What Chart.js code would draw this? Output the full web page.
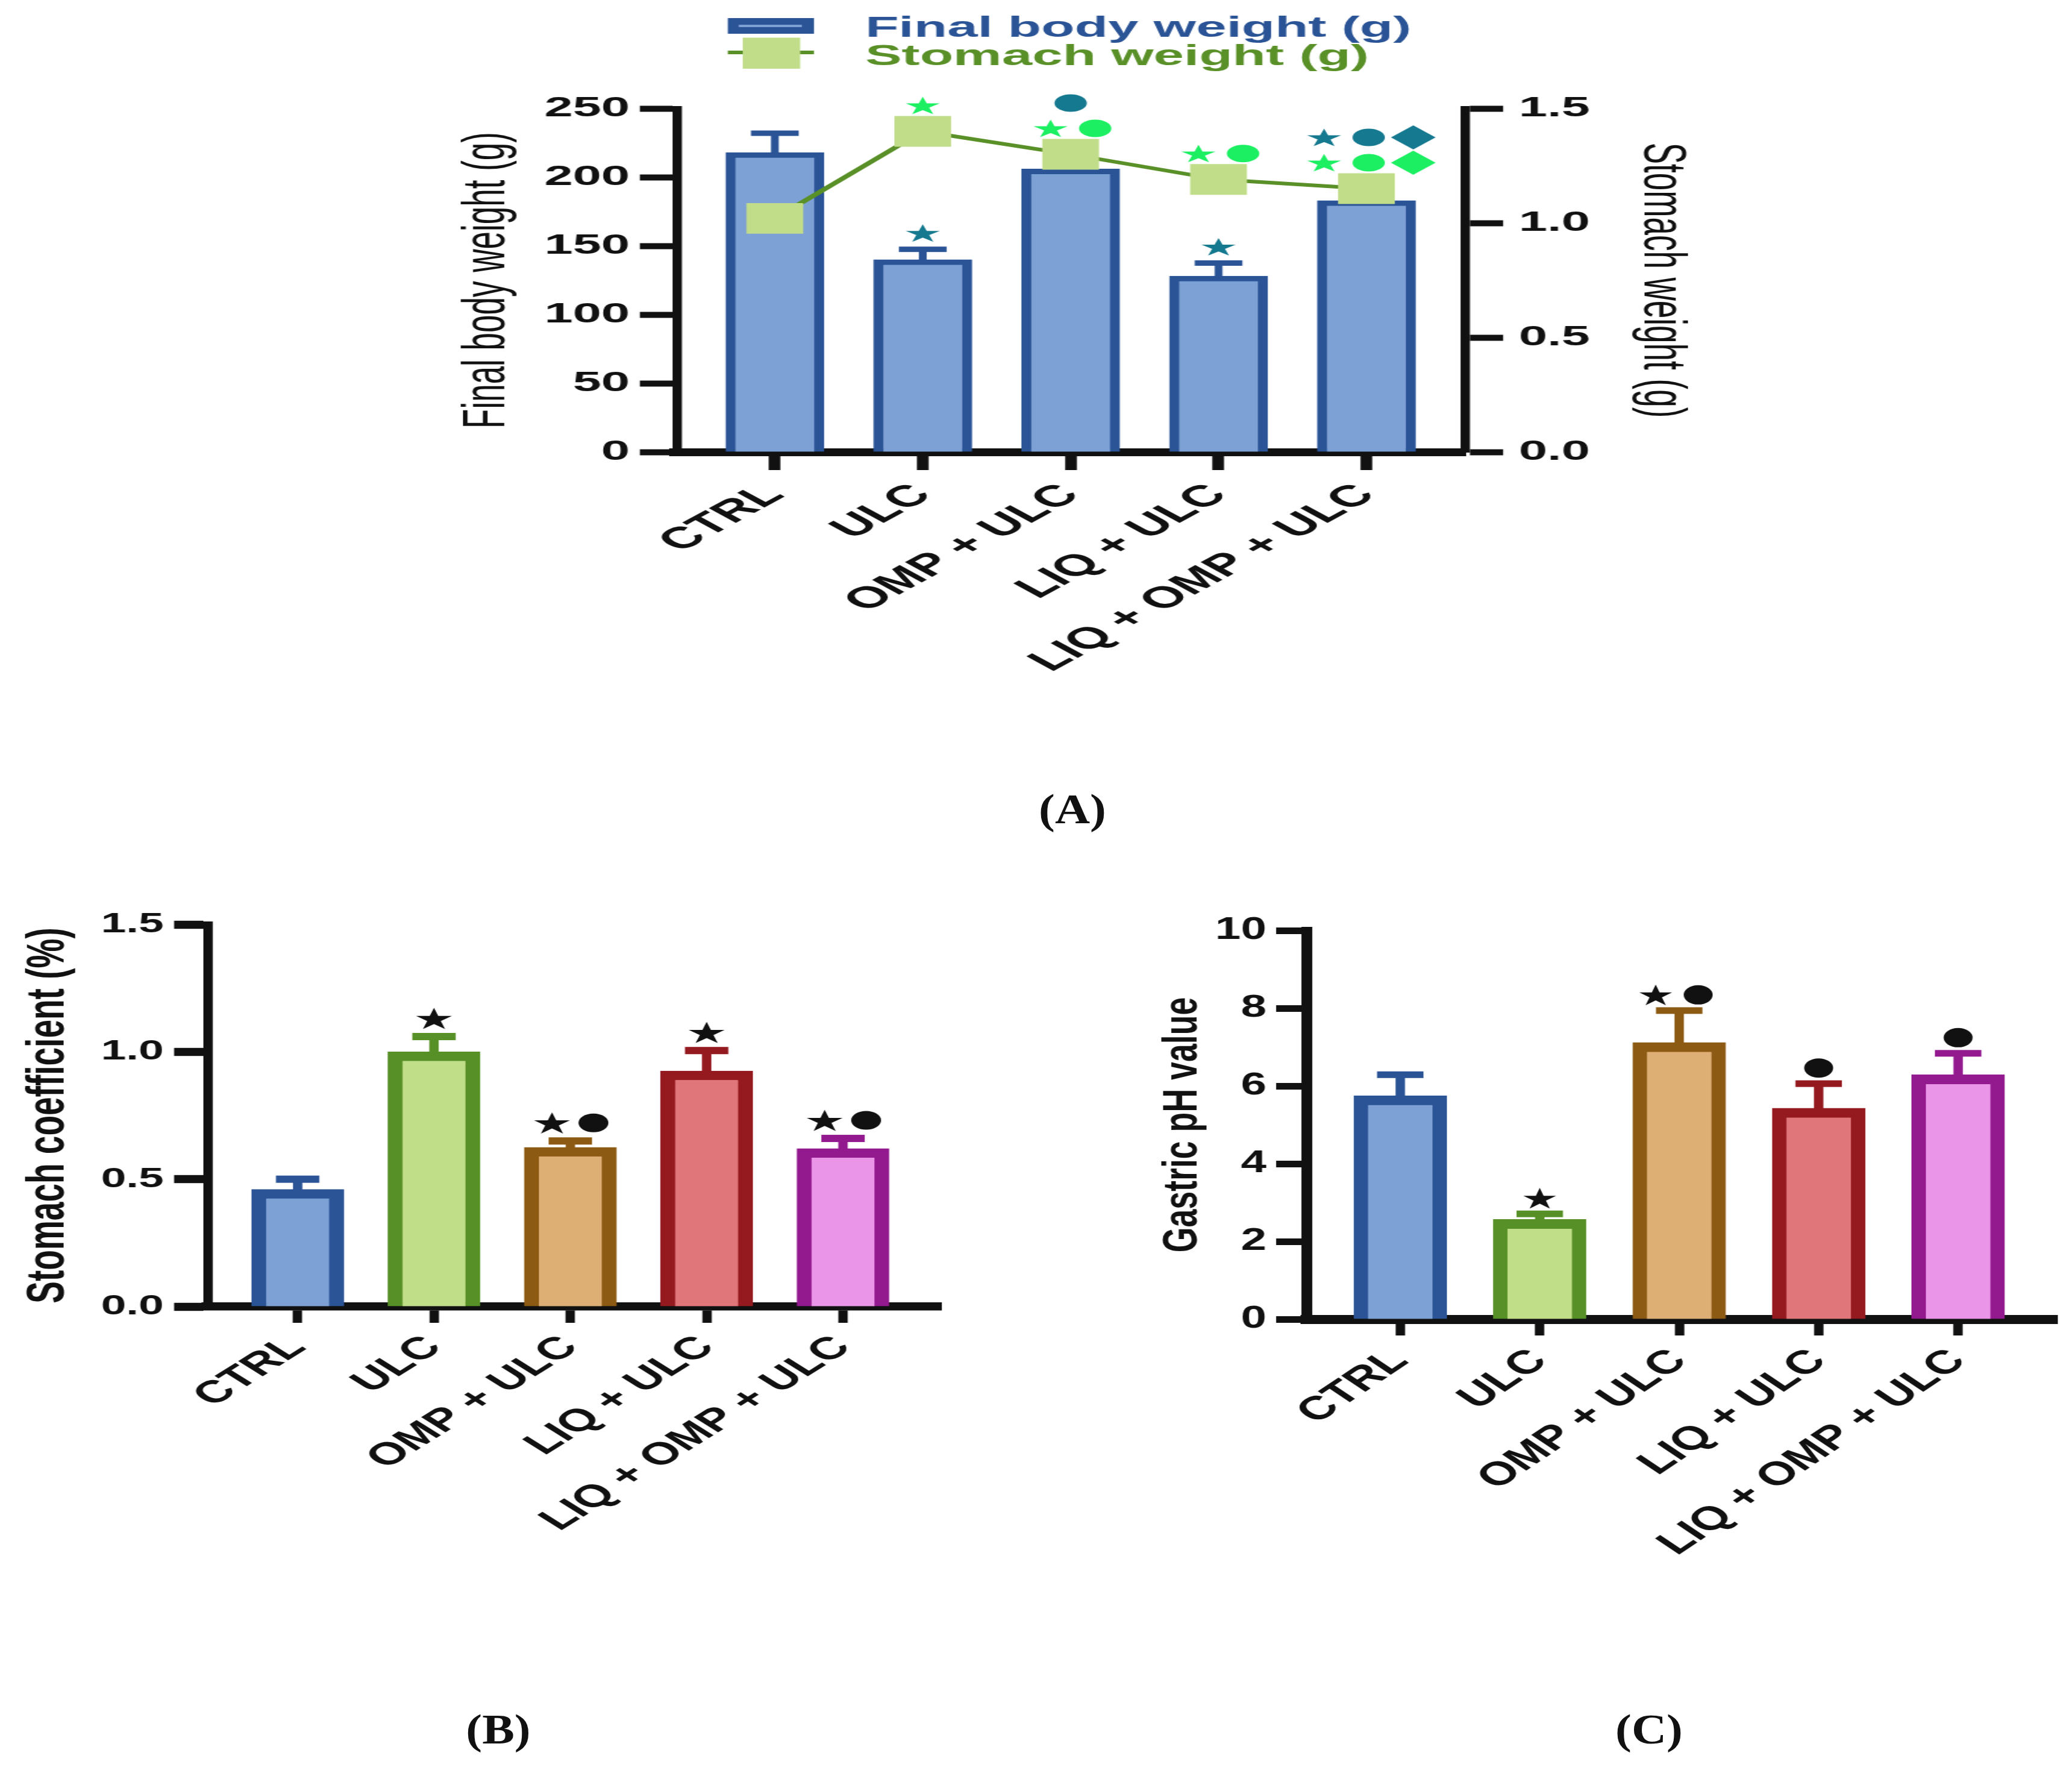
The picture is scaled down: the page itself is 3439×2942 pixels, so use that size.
<!DOCTYPE html>
<html>
<head>
<meta charset="utf-8">
<script src="https://cdn.jsdelivr.net/npm/chart.js@4.4.1/dist/chart.umd.min.js"></script>
<style>
html,body{margin:0;padding:0;background:#fff;overflow:hidden;width:3439px;height:2942px;position:relative;}
canvas{position:absolute;transform-origin:0 0;}
.plabel{position:absolute;font:bold 70px 'Liberation Serif','Times New Roman',serif;color:#111;transform:translate(-50%,-50%) scaleX(1.15);white-space:nowrap;}
</style>
</head>
<body>
<canvas id="cA" width="1189" height="1200" style="left:650px;top:0px;transform:scaleX(1.85)"></canvas>
<canvas id="cB" width="1000" height="1350" style="left:0px;top:1400px;transform:scaleX(1.6)"></canvas>
<canvas id="cC" width="1092" height="1350" style="left:1800px;top:1400px;transform:scaleX(1.5)"></canvas>
<div class="plabel" style="left:1780px;top:1343px">(A)</div>
<div class="plabel" style="left:827px;top:2870px">(B)</div>
<div class="plabel" style="left:2737px;top:2870px">(C)</div>
<script>
// ---------------- DATA ----------------
const categories = ['CTRL', 'ULC', 'OMP + ULC', 'LIQ + ULC', 'LIQ + OMP + ULC'];

// (A)
const bodyWeight    = [218, 140, 206, 128, 183];
const bodyWeightSEM = [14, 7.5, 6, 9.5, 6];
const stomachWeight = [1.02, 1.40, 1.30, 1.19, 1.15];
const bodyTicks     = [0, 50, 100, 150, 200, 250];
const stomachWTicks = [0, 0.5, 1.0, 1.5];
const bodySig       = [[], ['star'], ['circle'], ['star'], ['star', 'circle', 'diamond']];
const stomachWSig   = [[], ['star'], ['star', 'circle'], ['star', 'circle'], ['star', 'circle', 'diamond']];

// (B)
const stomachCoef    = [0.46, 1.00, 0.625, 0.925, 0.62];
const stomachCoefSEM = [0.04, 0.06, 0.025, 0.08, 0.04];
const coefTicks      = [0, 0.5, 1.0, 1.5];
const coefSig        = [[], ['star'], ['star', 'circle'], ['star'], ['star', 'circle']];

// (C)
const gastricPH    = [5.75, 2.57, 7.12, 5.43, 6.29];
const gastricPHSEM = [0.54, 0.14, 0.82, 0.63, 0.55];
const phTicks      = [0, 2, 4, 6, 8, 10];
const phSig        = [[], ['star'], ['star', 'circle'], ['circle'], ['circle']];

// ---------------- STYLE ----------------
const SANS = "'Liberation Sans', Arial, Helvetica, sans-serif";
const INK = '#111111';
const groupFill = ['#7EA1D5', '#C0DE88', '#DEAF74', '#E07679', '#EA95E7'];
const groupEdge = ['#2A5496', '#579026', '#8D5A14', '#951A20', '#93198F'];
const A_FILL = '#7EA1D5', A_EDGE = '#2A5496', A_LINE = '#5A9028', A_SQ = '#C2DD89';
const TEAL = '#15798F', BRIGHT = '#1CF062';

const pts = vals => vals.map((v, i) => ({ x: i, y: v }));

function xScale(o) {
  return {
    type: 'linear', position: 'bottom', min: o.min, max: o.max, offset: false,
    afterBuildTicks: s => { s.ticks = categories.map((c, i) => ({ value: i })); },
    afterFit: s => { s.height = o.height; },
    ticks: {
      autoSkip: false, minRotation: 45, maxRotation: 45, padding: o.pad, color: INK,
      callback: v => categories[v],
      font: { family: SANS, weight: 'bold', size: o.font }
    },
    grid: { offset: false, drawOnChartArea: false, drawTicks: true, tickLength: o.tickLen, tickWidth: o.tickW, tickColor: INK },
    border: { display: true, width: o.borderW, color: INK }
  };
}

function yScale(o) {
  return {
    type: 'linear', position: o.position, min: o.min, max: o.max,
    afterBuildTicks: s => { s.ticks = o.ticks.map(v => ({ value: v })); },
    afterFit: s => { s.width = o.width; },
    ticks: { callback: o.fmt, color: INK, padding: o.tickPad, font: { family: SANS, weight: 'bold', size: o.font } },
    grid: { drawOnChartArea: false, drawTicks: true, tickLength: o.tickLen, tickWidth: o.tickW, tickColor: INK },
    border: { display: true, width: o.borderW, color: INK },
    title: { display: true, text: o.title, color: INK, padding: { top: o.titlePad, bottom: 0 }, font: { family: SANS, size: o.titleSize, weight: o.titleWeight } }
  };
}

const errorBarPlugin = {
  id: 'errorBars',
  afterDatasetDraw(chart, args, opts) {
    const ds = chart.data.datasets[args.index];
    if (!ds.sem) return;
    const meta = args.meta;
    const yS = chart.scales[meta.yAxisID];
    const ctx = chart.ctx;
    ctx.save();
    meta.data.forEach((bar, i) => {
      const color = Array.isArray(ds.borderColor) ? ds.borderColor[i] : ds.borderColor;
      const errTop = yS.getPixelForValue(ds.data[i].y + ds.sem[i]);
      ctx.fillStyle = color;
      ctx.fillRect(bar.x - opts.stem / 2, errTop, opts.stem, bar.y - errTop + 2);
      ctx.fillRect(bar.x - opts.cap, errTop - opts.capT / 2, 2 * opts.cap, opts.capT);
    });
    ctx.restore();
  }
};

function drawSymbol(ctx, kind, x, y, s) {
  ctx.beginPath();
  if (kind === 'star') {
    const R = s.star, r = R * 0.382, cy = y + 0.0955 * R;
    for (let k = 0; k < 10; k++) {
      const a = -Math.PI / 2 + k * Math.PI / 5, rr = (k % 2) ? r : R;
      ctx.lineTo(x + rr * Math.cos(a), cy + rr * Math.sin(a));
    }
  } else if (kind === 'circle') {
    ctx.arc(x, y, s.circle, 0, 2 * Math.PI);
  } else if (kind === 'diamond') {
    const d = s.diamond;
    ctx.moveTo(x, y - d); ctx.lineTo(x + d, y); ctx.lineTo(x, y + d); ctx.lineTo(x - d, y);
  }
  ctx.closePath();
  ctx.fill();
}
function drawRow(ctx, list, cx, y, s, color) {
  ctx.fillStyle = color;
  const n = list.length;
  list.forEach((k, j) => drawSymbol(ctx, k, cx + (j - (n - 1) / 2) * s.gap + (n > 1 ? s.shift : 0), y, s));
}

// significance markers above error bars (B, C)
function sigPlugin(sigs, sem, s) {
  return {
    id: 'sigMarks',
    afterDraw(chart) {
      const ctx = chart.ctx;
      const meta = chart.getDatasetMeta(0);
      const yS = chart.scales.y;
      const ds = chart.data.datasets[0];
      ctx.save();
      meta.data.forEach((bar, i) => {
        if (!sigs[i].length) return;
        const errTop = yS.getPixelForValue(ds.data[i].y + sem[i]);
        drawRow(ctx, sigs[i], bar.x, errTop - s.above, s, s.color);
      });
      ctx.restore();
    }
  };
}

// significance markers for panel A (two families)
const symA = { star: 16, circle: 14.5, diamond: 20, gap: 40, shift: 2 };
const sigPluginA = {
  id: 'sigA',
  afterDraw(chart) {
    const ctx = chart.ctx;
    const lineMeta = chart.getDatasetMeta(0);
    const barMeta = chart.getDatasetMeta(1);
    const y = chart.scales.y, y1 = chart.scales.y1;
    const sqHalf = 25;
    ctx.save();
    categories.forEach((c, i) => {
      const sq = lineMeta.data[i];
      const bar = barMeta.data[i];
      const sqY = y1.getPixelForValue(stomachWeight[i]);
      const greenY = sqY - 43;
      if (stomachWSig[i].length) drawRow(ctx, stomachWSig[i], sq.x, greenY, symA, BRIGHT);
      if (bodySig[i].length) {
        const errTop = y.getPixelForValue(bodyWeight[i] + bodyWeightSEM[i]);
        let ty = errTop - 27;
        const top = stomachWSig[i].length ? greenY : sqY;
        if (ty > top - 30 && ty < sqY + sqHalf + 15) ty = top - 42;
        drawRow(ctx, bodySig[i], bar.x, ty, symA, TEAL);
      }
    });
    ctx.restore();
  }
};

const legendPluginA = {
  id: 'legendA',
  afterDraw(chart) {
    const ctx = chart.ctx;
    const lineDs = chart.data.datasets[0], barDs = chart.data.datasets[1];
    ctx.save();
    ctx.fillStyle = barDs.borderColor; ctx.fillRect(301.6, 30, 77.3, 26);
    ctx.fillStyle = barDs.backgroundColor; ctx.fillRect(311.4, 41, 56.7, 4);
    ctx.strokeStyle = lineDs.borderColor; ctx.lineWidth = 6;
    ctx.beginPath(); ctx.moveTo(301.6, 87); ctx.lineTo(378.9, 87); ctx.stroke();
    ctx.fillStyle = lineDs.pointBackgroundColor; ctx.fillRect(315, 62.5, 51.5, 51.5);
    ctx.font = 'bold 49px ' + SANS; ctx.textBaseline = 'alphabetic'; ctx.textAlign = 'left';
    ctx.fillStyle = barDs.borderColor; ctx.fillText(barDs.label, 424.9, 61);
    ctx.fillStyle = lineDs.borderColor; ctx.fillText(lineDs.label, 424.9, 107.5);
    ctx.restore();
  }
};

const common = {
  responsive: false, animation: false, devicePixelRatio: 1, events: [],
  plugins: { legend: { display: false }, tooltip: { enabled: false } }
};

// ---------------- PANEL A ----------------
new Chart(document.getElementById('cA'), {
  type: 'bar',
  data: {
    datasets: [
      { type: 'line', label: 'Stomach weight (g)', yAxisID: 'y1', order: 0, data: pts(stomachWeight),
        borderColor: A_LINE, borderWidth: 6, pointStyle: 'rect', pointRadius: 36, pointHoverRadius: 36,
        pointBackgroundColor: A_SQ, pointBorderWidth: 0, fill: false, tension: 0 },
      { type: 'bar', label: 'Final body weight (g)', yAxisID: 'y', order: 1, data: pts(bodyWeight), sem: bodyWeightSEM,
        backgroundColor: A_FILL, borderColor: A_EDGE, borderWidth: 9, barThickness: 88 }
    ]
  },
  options: Object.assign({}, common, {
    layout: { padding: { top: 180, left: 0, right: 0, bottom: 0 } },
    plugins: Object.assign({}, common.plugins, { errorBars: { stem: 7, cap: 21.4, capT: 9 } }),
    scales: {
      x: xScale({ min: -0.664, max: 4.668, height: 450, tickLen: 30, tickW: 10.5, borderW: 13, font: 50, pad: 12 }),
      y: yScale({ position: 'left', min: 0, max: 250, ticks: bodyTicks, fmt: v => String(v), width: 255.7,
        tickLen: 33, tickPad: 9, font: 46, title: 'Final body weight (g)', titleSize: 53, titleWeight: 'normal', titlePad: 55, borderW: 8.4, tickW: 10 }),
      y1: yScale({ position: 'right', min: 0, max: 1.5, ticks: stomachWTicks, fmt: v => v.toFixed(1), width: 225.8,
        tickLen: 34, tickPad: 14, font: 46, title: 'Stomach weight (g)', titleSize: 53, titleWeight: 'normal', titlePad: 19, borderW: 8.4, tickW: 10 })
    }
  }),
  plugins: [errorBarPlugin, sigPluginA, legendPluginA]
});

// ---------------- PANEL B ----------------
new Chart(document.getElementById('cB'), {
  type: 'bar',
  data: {
    datasets: [
      { label: 'Stomach coefficient (%)', data: pts(stomachCoef), sem: stomachCoefSEM,
        backgroundColor: groupFill, borderColor: groupEdge, borderWidth: 15.5, barThickness: 95.6 }
    ]
  },
  options: Object.assign({}, common, {
    layout: { padding: { top: 134, left: 0, right: 23.7, bottom: 0 } },
    plugins: Object.assign({}, common.plugins, { errorBars: { stem: 9.75, cap: 22.5, capT: 12 } }),
    scales: {
      x: xScale({ min: -0.659, max: 4.72, height: 582, tickLen: 27, tickW: 9.75, borderW: 13.4, font: 52, pad: 10 }),
      y: yScale({ position: 'left', min: 0, max: 1.5, ticks: coefTicks, fmt: v => v.toFixed(1), width: 215.6,
        tickLen: 35, tickPad: 10.6, font: 47, title: 'Stomach coefficient (%)', titleSize: 55, titleWeight: 'bold', titlePad: 17.6, borderW: 9.75, tickW: 13.4 })
    }
  }),
  plugins: [errorBarPlugin, sigPlugin(coefSig, stomachCoefSEM, { star: 19.5, circle: 15.5, diamond: 18, gap: 43, shift: 2.5, above: 30, color: '#111' })]
});

// ---------------- PANEL C ----------------
new Chart(document.getElementById('cC'), {
  type: 'bar',
  data: {
    datasets: [
      { label: 'Gastric pH value', data: pts(gastricPH), sem: gastricPHSEM,
        backgroundColor: groupFill, borderColor: groupEdge, borderWidth: 16, barThickness: 102.7 }
    ]
  },
  options: Object.assign({}, common, {
    layout: { padding: { top: 144, left: 0, right: 15.3, bottom: 0 } },
    plugins: Object.assign({}, common.plugins, { errorBars: { stem: 10.4, cap: 25.7, capT: 11 } }),
    scales: {
      x: xScale({ min: -0.67, max: 4.713, height: 561, tickLen: 27, tickW: 10.4, borderW: 15, font: 55, pad: 10 }),
      y: yScale({ position: 'left', min: 0, max: 10, ticks: phTicks, fmt: v => String(v), width: 246,
        tickLen: 34, tickPad: 10.7, font: 51, title: 'Gastric pH value', titleSize: 53.7, titleWeight: 'bold', titlePad: 77, borderW: 12, tickW: 11 })
    }
  }),
  plugins: [errorBarPlugin, sigPlugin(phSig, gastricPHSEM, { star: 19, circle: 16, diamond: 18, gap: 47, shift: -2.5, above: 26, color: '#111' })]
});
</script>
</body>
</html>
